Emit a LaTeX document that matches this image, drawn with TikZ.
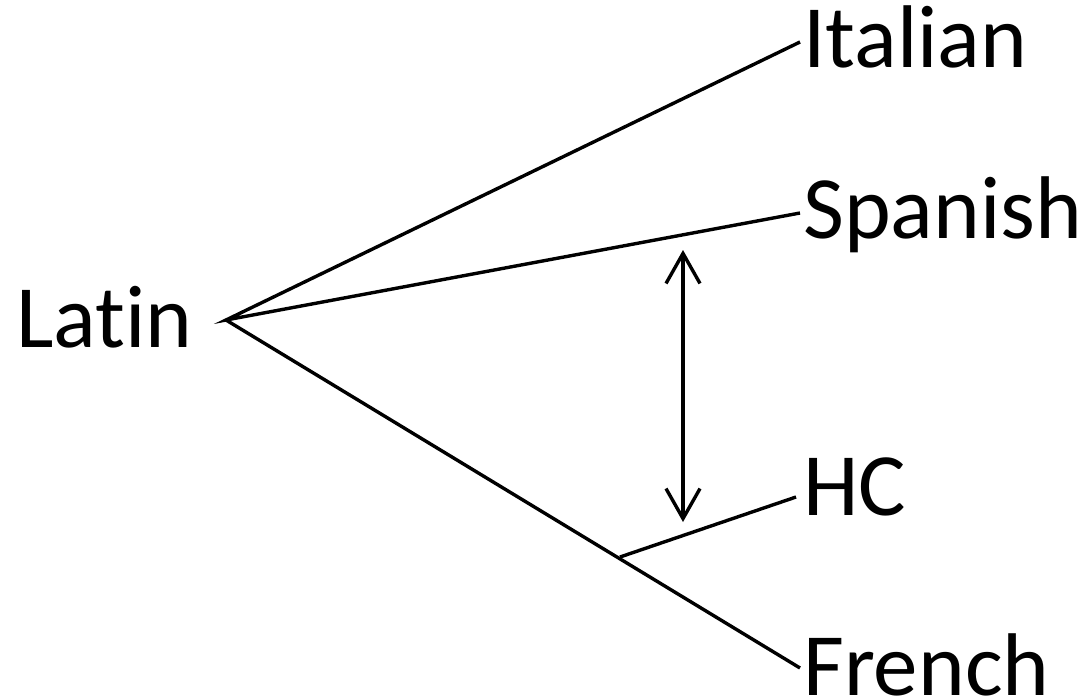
\documentclass[tikz,border=0pt]{standalone}
\usepackage{fontspec}
\setmainfont[RawFeature=-liga]{Carlito}
\usetikzlibrary{arrows.meta}
\begin{document}
\begin{tikzpicture}[x=1pt,y=-1pt,
  lang/.style={inner sep=0pt, text height=57pt, text depth=0pt,
    font=\fontsize{89}{100}\selectfont},
  branch/.style={line width=3.4pt},
  contact/.style={line width=3.4pt,
    {Straight Barb[length=30pt,width=34pt,line width=3.4pt]}-{Straight Barb[length=30pt,width=34pt,line width=3.4pt]}}]
  \useasboundingbox (0,0) rectangle (1086,699);
  % language labels
  \node[lang, anchor=west] (latin)   at (16,318.5) {Latin};
  \node[lang, anchor=west] (italian) at (803,38.5) {Italian};
  \node[lang, anchor=west] (spanish) at (803,209.5) {Spanish};
  \node[lang, anchor=west] (hc)      at (803,486.5) {HC};
  \node[lang, anchor=west] (french)  at (803,666.5) {French};
  % tree branching points
  \coordinate (root) at (226,320);
  \coordinate (split) at (620,557);
  % branch ends
  \coordinate (eit) at (800,42);
  \coordinate (esp) at (800,213);
  \coordinate (ehc) at (796,497);
  \coordinate (efr) at (800,668);
  \draw[branch] (eit) -- (root) -- (esp);
  \draw[branch] (root) -- (efr);
  \draw[branch] (split) -- (ehc);
  % contact between Spanish and HC
  \coordinate (atop) at (683,250);
  \coordinate (abot) at (683,522);
  \draw[contact] (atop) -- (abot);
\end{tikzpicture}
\end{document}
